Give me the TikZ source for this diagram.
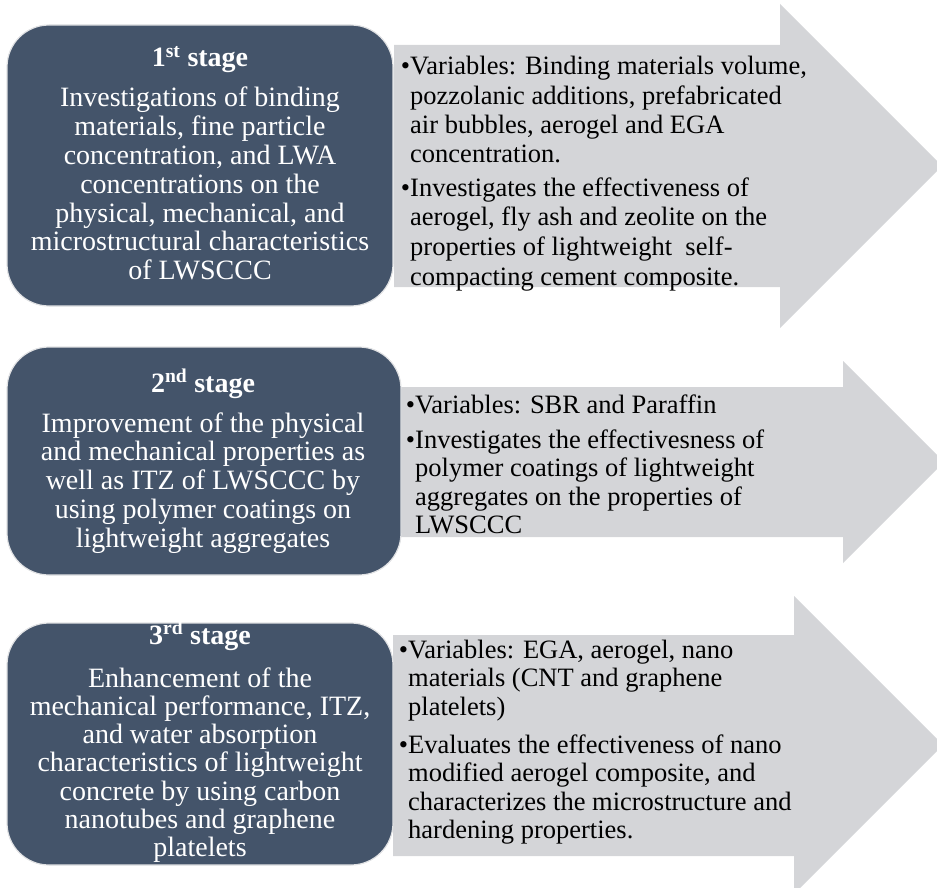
\documentclass[tikz,border=0pt]{standalone}
\usepackage{fontspec}
\setmainfont{Liberation Serif}
\definecolor{boxblue}{RGB}{68,84,106}
\definecolor{arrgray}{RGB}{212,213,216}
\definecolor{boxedge}{RGB}{225,226,228}
\tikzset{
  arrowshape/.style={fill=arrgray, draw=none},
  stagebox/.style={rectangle, fill=boxblue, draw=boxedge, line width=1.2pt, rounded corners=42pt, inner sep=0pt},
  boxtext/.style={text=white, anchor=base, inner sep=0pt},
  bullettext/.style={text=black, anchor=base west, inner sep=0pt},
}
\newcommand{\bul}{\llap{\textbullet}}
\begin{document}
\begin{tikzpicture}[x=1pt,y=-1pt]
\useasboundingbox (0,0) rectangle (937,888);
\begin{scope}
\clip (0,0) rectangle (937,888);
% arrows
\fill[arrowshape] (394,45) -- (780,45) -- (780,4) -- (942,166) -- (780,328) -- (780,287) -- (394,287) -- cycle;
\fill[arrowshape] (395,387) -- (843,387) -- (843,361) -- (944,462) -- (843,563) -- (843,537) -- (395,537) -- cycle;
\fill[arrowshape] (393,635) -- (794,635) -- (794,596) -- (943,745) -- (794,894) -- (794,856) -- (393,856) -- cycle;
\end{scope}

% stage boxes
\node[stagebox, minimum width=386pt, minimum height=281pt] (b1) at (200,165.5) {};
\node[stagebox, minimum width=394pt, minimum height=228pt] (b2) at (204,461) {};
\node[stagebox, minimum width=386pt, minimum height=242pt] (b3) at (200,744) {};

% box 1 text
\node[boxtext, font=\fontsize{28}{28.8}\selectfont\bfseries] (h1) at (200,67) {1\textsuperscript{st} stage};
\node[boxtext, font=\fontsize{28}{28.8}\selectfont] (t1) at (200,107) {\begin{tabular}[t]{@{}c@{}}
Investigations of binding\\
materials, fine particle\\
concentration, and LWA\\
concentrations on the\\
physical, mechanical, and\\
microstructural characteristics\\
of LWSCCC\end{tabular}};

% box 2 text
\node[boxtext, font=\fontsize{28}{28.75}\selectfont\bfseries] (h2) at (203,392) {2\textsuperscript{nd} stage};
\node[boxtext, font=\fontsize{28}{28.75}\selectfont] (t2) at (203,432) {\begin{tabular}[t]{@{}c@{}}
Improvement of the physical\\
and mechanical properties as\\
well as ITZ of LWSCCC by\\
using polymer coatings on\\
lightweight aggregates\end{tabular}};

% box 3 text
\node[boxtext, font=\fontsize{28}{28.3}\selectfont\bfseries] (h3) at (200,644) {3\textsuperscript{rd} stage};
\node[boxtext, font=\fontsize{28}{28.3}\selectfont] (t3) at (200,687) {\begin{tabular}[t]{@{}c@{}}
Enhancement of the\\
mechanical performance, ITZ,\\
and water absorption\\
characteristics of lightweight\\
concrete by using carbon\\
nanotubes and graphene\\
platelets\end{tabular}};

% arrow 1 text
\node[bullettext, font=\fontsize{26.5}{29.3}\selectfont] (a1a) at (410,75) {\begin{tabular}[t]{@{}l@{}}
\bul Variables: Binding materials volume,\\
pozzolanic additions, prefabricated\\
air bubbles, aerogel and EGA\\
concentration.\end{tabular}};
\node[bullettext, font=\fontsize{26.5}{29.8}\selectfont] (a1b) at (410,196) {\begin{tabular}[t]{@{}l@{}}
\bul Investigates the effectiveness of\\
aerogel, fly ash and zeolite on the\\
properties of lightweight\ \ self-\\
compacting cement composite.\end{tabular}};

% arrow 2 text
\node[bullettext, font=\fontsize{26.5}{28.5}\selectfont] (a2a) at (415,413) {\begin{tabular}[t]{@{}l@{}}
\bul Variables: SBR and Paraffin\end{tabular}};
\node[bullettext, font=\fontsize{26.5}{28.5}\selectfont] (a2b) at (415,448) {\begin{tabular}[t]{@{}l@{}}
\bul Investigates the effectivesness of\\
polymer coatings of lightweight\\
aggregates on the properties of\\
LWSCCC\end{tabular}};

% arrow 3 text
\node[bullettext, font=\fontsize{26.5}{28.5}\selectfont] (a3a) at (408,658) {\begin{tabular}[t]{@{}l@{}}
\bul Variables: EGA, aerogel, nano\\
materials (CNT and graphene\\
platelets)\end{tabular}};
\node[bullettext, font=\fontsize{26.5}{28.5}\selectfont] (a3b) at (408,753) {\begin{tabular}[t]{@{}l@{}}
\bul Evaluates the effectiveness of nano\\
modified aerogel composite, and\\
characterizes the microstructure and\\
hardening properties.\end{tabular}};
\end{tikzpicture}
\end{document}
